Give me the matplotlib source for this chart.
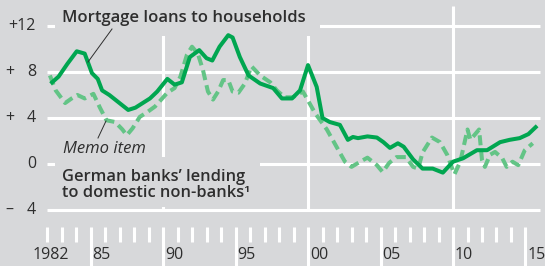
import matplotlib
matplotlib.use("Agg")
import matplotlib.pyplot as plt
import matplotlib.patches as mpatches

# Mortgage loans to households, annual growth in %
mortgage_years = [1982.35, 1982.8, 1983.4, 1984.05, 1984.6, 1985.1, 1985.5, 1985.8, 1986.3,
                  1986.9, 1987.6, 1988.1, 1988.6, 1989.1, 1989.6, 1990.3, 1990.8, 1991.3,
                  1991.85, 1992.5, 1993.0, 1993.4, 1993.9, 1994.5, 1994.8, 1995.3, 1995.9,
                  1996.7, 1997.6, 1998.2, 1998.9, 1999.45, 2000.0, 2000.6, 2001.0, 2001.5,
                  2002.2, 2002.75, 2003.1, 2003.45, 2004.1, 2004.75, 2005.2, 2005.65, 2006.2,
                  2006.6, 2007.25, 2007.9, 2008.6, 2009.3, 2010.0, 2010.7, 2011.65, 2012.35,
                  2013.25, 2013.9, 2014.6, 2015.2, 2015.7]
mortgage_vals = [7.1, 7.6, 8.7, 9.8, 9.6, 7.9, 7.4, 6.4, 6.0,
                 5.4, 4.7, 4.9, 5.3, 5.7, 6.3, 7.4, 6.9, 7.1,
                 9.3, 9.9, 9.2, 9.0, 10.2, 11.2, 11.0, 9.3, 7.7,
                 7.0, 6.6, 5.7, 5.7, 6.4, 8.6, 6.7, 4.0, 3.65,
                 3.4, 2.1, 2.35, 2.25, 2.4, 2.3, 1.9, 1.4, 1.8,
                 1.5, 0.4, -0.4, -0.4, -0.75, 0.2, 0.5, 1.2, 1.2,
                 1.9, 2.1, 2.25, 2.6, 3.2]

# Memo item: German banks' lending to domestic non-banks
memo_years = [1982.2, 1982.6, 1983.25, 1983.7, 1984.1, 1984.6, 1985.2, 1985.65, 1986.1,
              1986.7, 1987.2, 1987.5, 1987.9, 1988.4, 1988.9, 1989.45, 1990.3, 1990.8,
              1991.2, 1991.65, 1992.0, 1992.4, 1992.75, 1993.1, 1993.45, 1993.8, 1994.15,
              1994.5, 1994.8, 1995.2, 1995.65, 1996.1, 1996.7, 1997.4, 1997.85, 1998.4,
              1998.95, 1999.65, 2000.5, 2001.3, 2002.1, 2002.55, 2003.0, 2003.6, 2004.1,
              2004.75, 2005.15, 2005.6, 2006.1, 2006.75, 2007.25, 2007.6, 2007.9, 2008.55,
              2009.1, 2009.6, 2010.1, 2010.5, 2011.0, 2011.2, 2011.6, 2011.8, 2012.0,
              2012.2, 2012.55, 2012.9, 2013.4, 2013.7, 2014.1, 2014.5, 2014.95, 2015.5]
memo_vals = [7.7, 6.4, 5.3, 5.7, 6.0, 5.7, 6.1, 4.9, 3.8,
             3.65, 3.0, 2.5, 3.1, 4.1, 4.5, 5.0, 6.2, 6.6,
             7.6, 9.5, 10.2, 9.6, 8.2, 6.3, 5.6, 6.3, 7.3,
             7.3, 6.3, 6.2, 7.0, 8.5, 7.7, 7.1, 6.4, 5.8,
             5.8, 6.3, 4.4, 3.0, 1.2, 0.2, -0.25, 0.2, 0.55,
             -0.1, -0.7, 0.1, 0.6, 0.6, -0.25, -0.4, 1.0, 2.3,
             1.9, 0.8, -0.9, 0.2, 3.0, 2.1, 2.7, 3.0, 0.35,
             -0.25, 0.8, 1.05, 0.5, -0.25, 0.2, -0.1, 1.2, 1.8]

y_ticks = [12, 8, 4, 0, -4]
y_signs = ["", "+", "+", "", "–"]
y_numbers = ["+12", "8", "4", "0", "4"]
year_ticks = list(range(1982, 2016))
year_labels = {1982: "1982", 1985: "85", 1990: "90", 1995: "95",
               2000: "00", 2005: "05", 2010: "10", 2015: "15"}

BG = "#d7d8da"
SOLID = "#00a650"
DASHED = "#63c486"
TEXT = "#2e2e2e"
FONT = "Open Sans"


# pixel -> data helpers (chart is laid out on a 545x266 canvas)
def px_x(x):
    return 1982 + (x - 47) / 14.5


def px_y(y):
    return (164 - y) / 11.5


fig = plt.figure(figsize=(5.45, 2.66), dpi=100)
fig.patch.set_facecolor(BG)
ax = fig.add_axes([0, 0, 1, 1])
ax.set_facecolor(BG)
ax.set_xlim(px_x(0), px_x(545))
ax.set_ylim(px_y(266), px_y(0))
ax.axis("off")

# grid
for v in y_ticks:
    ax.plot([px_x(47), px_x(540)], [v, v], color="white", lw=2.2, zorder=1,
            solid_capstyle="butt")
for yr in (1990, 2000, 2010):
    ax.plot([yr, yr], [px_y(6), -4], color="white", lw=2.2, zorder=1,
            solid_capstyle="butt")

# year ticks below the plot
for yr in year_ticks:
    bottom = px_y(266) if yr in year_labels and yr != 1982 else px_y(242)
    ax.plot([yr, yr], [px_y(227), bottom], color="white", lw=2.2, zorder=1,
            solid_capstyle="butt")
for yr, lab in year_labels.items():
    xpos = px_x(33) if yr == 1982 else yr + 2 / 14.5
    ax.text(xpos, px_y(255), lab, ha="left", va="center", fontsize=11.5,
            color=TEXT, family=FONT)

# y labels
for v, s, n in zip(y_ticks, y_signs, y_numbers):
    if s:
        ax.text(px_x(5), v, s, ha="left", va="center", fontsize=11.5,
                color=TEXT, family=FONT)
    ax.text(px_x(36), v, n, ha="right", va="center", fontsize=11.5,
            color=TEXT, family=FONT)

# masks behind the labels
ax.add_patch(mpatches.Rectangle((px_x(55), px_y(36)), px_x(320) - px_x(55),
                                px_y(0) - px_y(36), facecolor=BG, edgecolor="none", zorder=2))
ax.add_patch(mpatches.Rectangle((px_x(55), px_y(207)), px_x(260) - px_x(55),
                                px_y(157) - px_y(207), facecolor=BG, edgecolor="none", zorder=2))

# series
ax.plot(memo_years, memo_vals, color=DASHED, lw=2.9, linestyle=(0, (2.5, 1.3)),
        zorder=3)
ax.plot(mortgage_years, mortgage_vals, color=SOLID, lw=2.9, zorder=4,
        solid_joinstyle="round")

# annotations
ax.text(px_x(62), px_y(18), "Mortgage loans to households", ha="left", va="center",
        fontsize=12, fontweight="semibold", color=TEXT, family=FONT, zorder=5)
ax.plot([px_x(112), px_x(88)], [px_y(29), px_y(62)], color=TEXT, lw=0.7, zorder=5)

ax.text(px_x(63), px_y(149), "Memo item", ha="left", va="center", fontsize=12,
        style="italic", color=TEXT, family=FONT, zorder=5)
ax.text(px_x(62), px_y(185), "German banks’ lending\nto domestic non-banks¹",
        ha="left", va="center", fontsize=11.8, fontweight="semibold", color=TEXT,
        family=FONT, linespacing=1.05, zorder=5)
ax.plot([px_x(98), px_x(106)], [px_y(138), px_y(121)], color=TEXT, lw=0.7, zorder=5)

fig.savefig("out.png", dpi=100, facecolor=BG)
